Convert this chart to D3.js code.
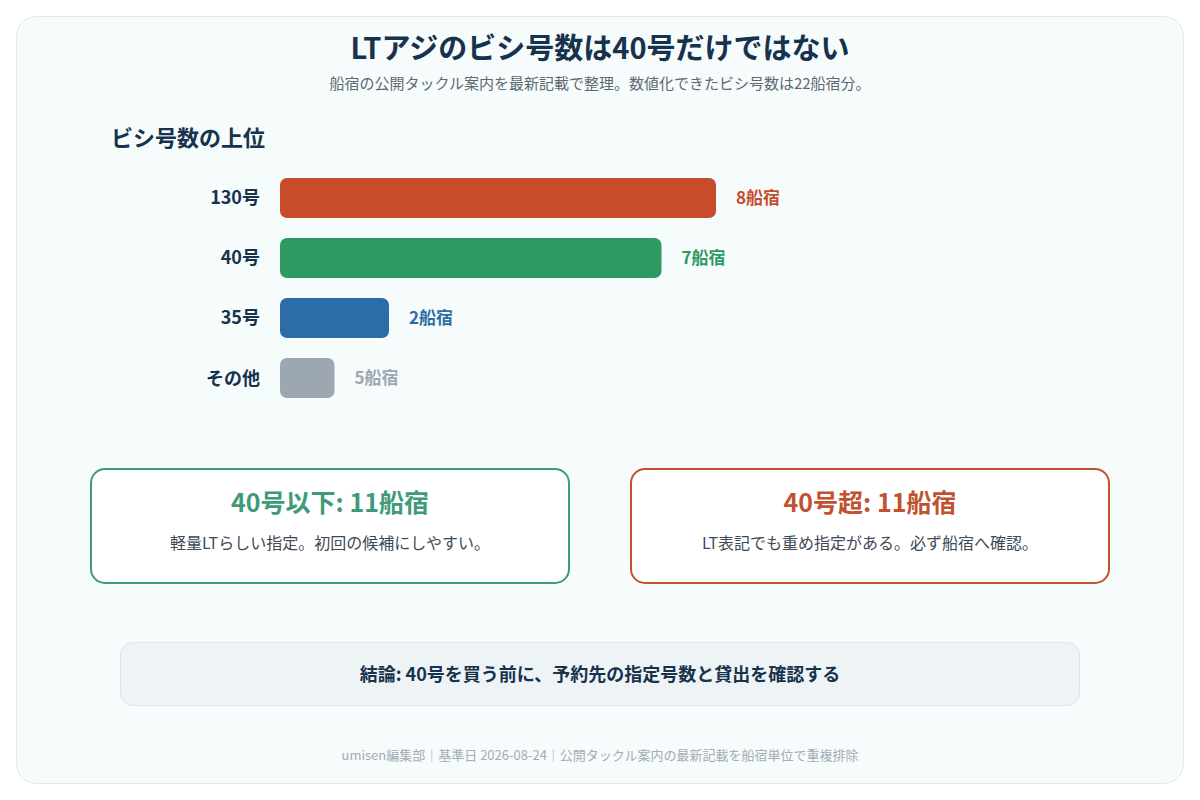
<!DOCTYPE html>
<html lang="ja">
<head>
<meta charset="utf-8">
<title>LTアジのビシ号数</title>
<script src="https://cdn.jsdelivr.net/npm/d3@7"></script>
<style>
    html, body { margin: 0; padding: 0; background: #ffffff; }
    svg { display: block; font-family: "Noto Sans CJK JP", "Noto Sans", sans-serif; }
</style>
</head>
<body>
<svg id="chart" width="1200" height="800"></svg>
<script>
(function() {
    'use strict';

    // categories and values
    var gauges = ['130号', '40号', '35号', 'その他'];
    var shipCounts = [8, 7, 2, 5];
    // "その他" is several gauges with one ship each, so its bar is 1 long
    var barLengths = [8, 7, 2, 1];
    var barColors = ['#c84b2b', '#2e9962', '#2c6da8', '#9ca7b1'];
    var labelColors = ['#c84b2b', '#2e9962', '#2c6da8', '#9ca7b1'];

    var summaryTitles = ['40号以下: 11船宿', '40号超: 11船宿'];
    var summaryNotes = ['軽量LTらしい指定。初回の候補にしやすい。', 'LT表記でも重め指定がある。必ず船宿へ確認。'];
    var summaryColors = ['#3e9a78', '#c0522f'];

    var titleText = 'LTアジのビシ号数は40号だけではない';
    var subtitleText = '船宿の公開タックル案内を最新記載で整理。数値化できたビシ号数は22船宿分。';
    var sectionText = 'ビシ号数の上位';
    var conclusionText = '結論: 40号を買う前に、予約先の指定号数と貸出を確認する';
    var footerText = 'umisen編集部｜基準日 2026-08-24｜公開タックル案内の最新記載を船宿単位で重複排除';

    var navy = '#17324d';
    var svg = d3.select('#chart');

    /******************************************************************
        card background
     ******************************************************************/
    svg.append('rect')
        .attr('x', 16.5).attr('y', 16.5)
        .attr('width', 1167).attr('height', 767)
        .attr('rx', 20)
        .style('fill', '#f6fbfc')
        .style('stroke', '#e2e8ec')
        .style('stroke-width', 1);

    svg.append('text')
        .attr('x', 600).attr('y', 59)
        .attr('text-anchor', 'middle')
        .style('font-size', '29px').style('font-weight', 700)
        .style('fill', navy)
        .text(titleText);

    svg.append('text')
        .attr('x', 600).attr('y', 89)
        .attr('text-anchor', 'middle')
        .style('font-size', '15px')
        .style('fill', '#5d6872')
        .text(subtitleText);

    svg.append('text')
        .attr('x', 111).attr('y', 146)
        .style('font-size', '22px').style('font-weight', 700)
        .style('fill', navy)
        .text(sectionText);

    /******************************************************************
        bars
     ******************************************************************/
    var x = d3.scaleLinear().domain([0, 8]).range([280, 716]);
    var y = d3.scaleBand().domain(gauges).range([168, 408]).paddingInner(0.333).paddingOuter(0.166);

    var rows = svg.append('g').selectAll('g')
        .data(gauges)
        .enter().append('g');

    rows.append('rect')
        .attr('x', x(0))
        .attr('y', function(d) { return y(d); })
        .attr('width', function(d, i) { return x(barLengths[i]) - x(0); })
        .attr('height', y.bandwidth())
        .attr('rx', 7)
        .style('fill', function(d, i) { return barColors[i]; });

    rows.append('text')
        .attr('x', x(0) - 20)
        .attr('y', function(d) { return y(d) + y.bandwidth() / 2; })
        .attr('dy', '0.36em')
        .attr('text-anchor', 'end')
        .style('font-size', '18px').style('font-weight', 700)
        .style('fill', navy)
        .text(function(d) { return d; });

    rows.append('text')
        .attr('x', function(d, i) { return x(barLengths[i]) + 20; })
        .attr('y', function(d) { return y(d) + y.bandwidth() / 2; })
        .attr('dy', '0.36em')
        .style('font-size', '17px').style('font-weight', 700)
        .style('fill', function(d, i) { return labelColors[i]; })
        .text(function(d, i) { return shipCounts[i] + '船宿'; });

    /******************************************************************
        summary cards
     ******************************************************************/
    var cardX = d3.scaleBand().domain(d3.range(summaryTitles.length)).range([90, 1110]).paddingInner(0.1111);

    var cards = svg.append('g').selectAll('g')
        .data(summaryTitles)
        .enter().append('g')
        .attr('transform', function(d, i) { return 'translate(' + cardX(i) + ',468)'; });

    cards.append('rect')
        .attr('x', 1).attr('y', 1)
        .attr('width', cardX.bandwidth() - 2).attr('height', 114)
        .attr('rx', 14)
        .style('fill', '#ffffff')
        .style('stroke', function(d, i) { return summaryColors[i]; })
        .style('stroke-width', 2);

    cards.append('text')
        .attr('x', cardX.bandwidth() / 2).attr('y', 44)
        .attr('text-anchor', 'middle')
        .style('font-size', '25px').style('font-weight', 700)
        .style('fill', function(d, i) { return summaryColors[i]; })
        .text(function(d) { return d; });

    cards.append('text')
        .attr('x', cardX.bandwidth() / 2).attr('y', 81)
        .attr('text-anchor', 'middle')
        .style('font-size', '16px')
        .style('fill', '#3d4955')
        .text(function(d, i) { return summaryNotes[i]; });

    /******************************************************************
        conclusion + footer
     ******************************************************************/
    svg.append('rect')
        .attr('x', 120.5).attr('y', 642.5)
        .attr('width', 959).attr('height', 63)
        .attr('rx', 12)
        .style('fill', '#eef3f6')
        .style('stroke', '#dee6ec');

    svg.append('text')
        .attr('x', 600).attr('y', 675)
        .attr('dy', '0.36em')
        .attr('text-anchor', 'middle')
        .style('font-size', '18px').style('font-weight', 700)
        .style('fill', navy)
        .text(conclusionText);

    svg.append('text')
        .attr('x', 600).attr('y', 760)
        .attr('text-anchor', 'middle')
        .style('font-size', '13px')
        .style('fill', '#a2acb5')
        .text(footerText);
})();
</script>
</body>
</html>
